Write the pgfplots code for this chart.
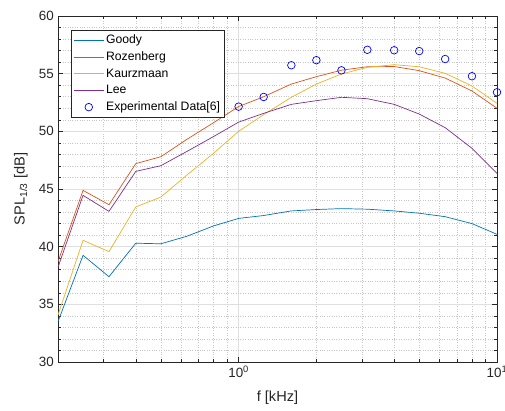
\documentclass[border=0pt]{standalone}
\usepackage{fontspec}
\setmainfont{Liberation Sans}
\usepackage{pgfplots}
\pgfplotsset{compat=1.18}
\definecolor{mblue}{rgb}{0,0.447,0.741}
\definecolor{morange}{rgb}{0.85,0.325,0.098}
\definecolor{myellow}{rgb}{0.929,0.694,0.125}
\definecolor{mpurple}{rgb}{0.494,0.184,0.556}
\definecolor{axgray}{rgb}{0.15,0.15,0.15}
\begin{document}
\fontsize{12}{14}\selectfont
\begin{tikzpicture}
% page frame: axis box is 439pt x 346pt at the origin
\useasboundingbox (-58pt,-48pt) rectangle (447pt,362pt);
\begin{axis}[
  scale only axis, width=439pt, height=346pt,
  xmode=log, xmin=0.2, xmax=10, ymin=30, ymax=60,
  xtick={1,10}, xticklabels={10\textsuperscript{0},10\textsuperscript{1}},
  minor xtick={0.2,0.3,0.4,0.5,0.6,0.7,0.8,0.9,2,3,4,5,6,7,8,9},
  ytick={30,35,40,45,50,55,60}, minor ytick={31,32,33,34,36,37,38,39,41,42,43,44,46,47,48,49,51,52,53,54,56,57,58,59},
  /pgf/number format/assume math mode=true,
  tick label style={font=\fontsize{13.4}{15}\selectfont, text=axgray},
  label style={font=\fontsize{14.6}{16}\selectfont, text=axgray},
  xlabel shift=5pt, ylabel shift=3pt,
  axis line style={axgray}, tick style={axgray, line width=0.5pt},
  major tick length=5pt, minor tick length=3pt,
  grid=both,
  major grid style={gray!25, line width=0.5pt},
  minor grid style={gray!45, dotted, line width=0.5pt},
  xlabel={f [kHz]}, ylabel={SPL\textsubscript{1/3} [dB]},
  legend cell align=left,
  legend style={at={(0.029,0.96)}, anchor=north west, draw=axgray, font=\fontsize{12.2}{14}\selectfont, row sep=2.4pt, inner sep=2.5pt},
  legend image code/.code={\draw[mark repeat=2,mark phase=2,#1] plot coordinates {(0pt,0pt) (15pt,0pt) (30pt,0pt)};},
  every axis plot/.append style={line width=0.7pt},
]
\addplot[mblue, no markers] coordinates {
(0.2,33.5) (0.25,39.25) (0.315,37.4) (0.4,40.3) (0.5,40.25) (0.63,40.9) (0.8,41.8) (1.0,42.45)
(1.25,42.7) (1.6,43.1) (2.0,43.22) (2.5,43.3) (3.15,43.25) (4.0,43.1) (5.0,42.9) (6.3,42.6) (8.0,42.0) (10.0,41.07)};
\addlegendentry{Goody}
\addplot[morange, no markers] coordinates {
(0.2,38.7) (0.25,44.88) (0.315,43.64) (0.4,47.2) (0.5,47.8) (0.63,49.3) (0.8,50.75) (1.0,52.15)
(1.25,53.0) (1.6,54.1) (2.0,54.74) (2.5,55.3) (3.15,55.6) (4.0,55.62) (5.0,55.26) (6.3,54.62) (8.0,53.5) (10.0,52.0)};
\addlegendentry{Rozenberg}
\addplot[myellow, no markers] coordinates {
(0.2,34.07) (0.25,40.55) (0.315,39.57) (0.4,43.45) (0.5,44.3) (0.63,46.2) (0.8,48.1) (1.0,50.0)
(1.25,51.45) (1.6,52.95) (2.0,54.1) (2.5,54.97) (3.15,55.55) (4.0,55.78) (5.0,55.6) (6.3,55.03) (8.0,53.93) (10.0,52.43)};
\addlegendentry{Kaurzmaan}
\addplot[mpurple, no markers] coordinates {
(0.2,38.21) (0.25,44.45) (0.315,43.06) (0.4,46.53) (0.5,47.02) (0.63,48.25) (0.8,49.55) (1.0,50.8)
(1.25,51.56) (1.6,52.34) (2.0,52.66) (2.5,52.95) (3.15,52.83) (4.0,52.34) (5.0,51.5) (6.3,50.32) (8.0,48.53) (10.0,46.36)};
\addlegendentry{Lee}
\addplot[only marks, mark=o, mark size=3.8pt, blue, line width=0.7pt] coordinates {
(1.0,52.14) (1.25,52.98) (1.6,55.73) (2.0,56.17) (2.5,55.29) (3.15,57.07) (4.0,57.03) (5.0,56.96) (6.3,56.27) (8.0,54.78) (10.0,53.39)};
\addlegendentry{Experimental Data[6]}
\end{axis}
\end{tikzpicture}
\end{document}
